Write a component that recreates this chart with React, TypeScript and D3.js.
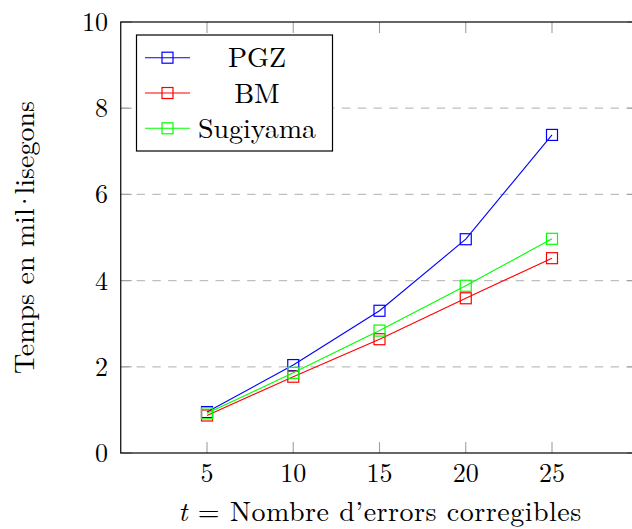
import { useRef, useEffect } from 'react';
import * as d3 from 'd3';

// error-correcting capacity t
const T_VALUES = [5, 10, 15, 20, 25];
// decoding time in milliseconds, one array per algorithm
const PGZ = [0.95, 2.04, 3.3, 4.96, 7.38];
const BM = [0.87, 1.77, 2.64, 3.59, 4.52];
const SUGIYAMA = [0.92, 1.86, 2.84, 3.88, 4.97];

const X_TICKS = [5, 10, 15, 20, 25];
const Y_TICKS = [0, 2, 4, 6, 8, 10];
const GRID_TICKS = [2, 4, 6, 8];

const SERIES = [
  { name: 'PGZ', values: PGZ, color: '#0000ff' },
  { name: 'BM', values: BM, color: '#ff0000' },
  { name: 'Sugiyama', values: SUGIYAMA, color: '#00ff00' },
];

const W = 632;
const H = 529;
const FONT = '"Latin Modern Roman", "CMU Serif", "Liberation Serif", serif';

export default function App() {
  const svgRef = useRef<SVGSVGElement>(null);

  useEffect(() => {
    const svg = d3.select(svgRef.current);
    svg.selectAll('*').remove();

    const x = d3.scaleLinear().domain([0, 30]).range([120.75, 638.25]);
    const y = d3.scaleLinear().domain([0, 10]).range([453, 22]);
    const [x0, x1] = x.range();
    const [y0, y1] = y.range();

    svg.append('rect').attr('width', W).attr('height', H).attr('fill', '#fff');

    // dashed horizontal grid
    svg.append('g')
      .selectAll('line')
      .data(GRID_TICKS)
      .join('line')
      .attr('x1', x0).attr('x2', x1)
      .attr('y1', (d) => y(d)).attr('y2', (d) => y(d))
      .attr('stroke', '#bfbfbf')
      .attr('stroke-width', 1.2)
      .attr('stroke-dasharray', '8.4,7.4');

    // inward ticks on all four sides
    const tickLen = 11;
    const ticks = svg.append('g').attr('stroke', '#a0a0a0').attr('stroke-width', 1.1);
    X_TICKS.forEach((t) => {
      ticks.append('line').attr('x1', x(t)).attr('x2', x(t)).attr('y1', y0).attr('y2', y0 - tickLen);
      ticks.append('line').attr('x1', x(t)).attr('x2', x(t)).attr('y1', y1).attr('y2', y1 + tickLen);
    });
    Y_TICKS.forEach((t) => {
      ticks.append('line').attr('x1', x0).attr('x2', x0 + tickLen).attr('y1', y(t)).attr('y2', y(t));
      ticks.append('line').attr('x1', x1).attr('x2', x1 - tickLen).attr('y1', y(t)).attr('y2', y(t));
    });

    // axis box
    svg.append('rect')
      .attr('x', x0).attr('y', y1)
      .attr('width', x1 - x0).attr('height', y0 - y1)
      .attr('fill', 'none')
      .attr('stroke', '#000')
      .attr('stroke-width', 1.2);

    // tick labels
    svg.append('g')
      .selectAll('text')
      .data(X_TICKS)
      .join('text')
      .attr('x', (d) => x(d))
      .attr('y', 482)
      .attr('text-anchor', 'middle')
      .attr('font-family', FONT)
      .attr('font-size', 26)
      .text((d) => d);

    svg.append('g')
      .selectAll('text')
      .data(Y_TICKS)
      .join('text')
      .attr('x', 108)
      .attr('y', (d) => y(d) + 9)
      .attr('text-anchor', 'end')
      .attr('font-family', FONT)
      .attr('font-size', 26)
      .text((d) => d);

    // series
    const line = d3.line<number>()
      .x((d, i) => x(T_VALUES[i]))
      .y((d) => y(d));
    const ms = 11;

    SERIES.forEach((s) => {
      const g = svg.append('g');
      g.append('path')
        .attr('d', line(s.values))
        .attr('fill', 'none')
        .attr('stroke', s.color)
        .attr('stroke-width', 1.1);
      g.selectAll('rect')
        .data(s.values)
        .join('rect')
        .attr('x', (d, i) => x(T_VALUES[i]) - ms / 2)
        .attr('y', (d) => y(d) - ms / 2)
        .attr('width', ms)
        .attr('height', ms)
        .attr('fill', 'none')
        .attr('stroke', s.color)
        .attr('stroke-width', 1.2);
    });

    // axis labels
    const xl = svg.append('text')
      .attr('x', 380)
      .attr('y', 521)
      .attr('text-anchor', 'middle')
      .attr('font-family', FONT)
      .attr('font-size', 28)
      .attr('letter-spacing', 0.5);
    xl.append('tspan').attr('font-style', 'italic').text('t');
    xl.append('tspan').text(' = Nombre d’errors corregibles');

    // the Catalan "l·l" is set tight, as in LaTeX
    const yl = svg.append('text')
      .attr('transform', 'translate(34,' + (y0 + y1) / 2 + ') rotate(-90)')
      .attr('text-anchor', 'middle')
      .attr('font-family', FONT)
      .attr('font-size', 28);
    yl.append('tspan').text('Temps en mil');
    yl.append('tspan').attr('dx', -4).text('·');
    yl.append('tspan').attr('dx', -4).text('lisegons');

    // legend
    const lg = svg.append('g');
    lg.append('rect')
      .attr('x', 136.5).attr('y', 35)
      .attr('width', 196).attr('height', 116)
      .attr('fill', '#fff')
      .attr('stroke', '#000')
      .attr('stroke-width', 1.2);
    SERIES.forEach((s, i) => {
      const cy = 57.7 + i * 35.3;
      lg.append('line')
        .attr('x1', 145).attr('x2', 190)
        .attr('y1', cy).attr('y2', cy)
        .attr('stroke', s.color)
        .attr('stroke-width', 1.1);
      lg.append('rect')
        .attr('x', 167.5 - ms / 2).attr('y', cy - ms / 2)
        .attr('width', ms).attr('height', ms)
        .attr('fill', 'none')
        .attr('stroke', s.color)
        .attr('stroke-width', 1.2);
      lg.append('text')
        .attr('x', 257)
        .attr('y', cy + 9.5)
        .attr('text-anchor', 'middle')
        .attr('font-family', FONT)
        .attr('font-size', 28)
        .text(s.name);
    });
  }, []);

  return (
    <svg
      ref={svgRef}
      width={W}
      height={H}
      style={{ position: 'absolute', left: 0, top: 0 }}
      aria-label="Temps de descodificació"
    />
  );
}
